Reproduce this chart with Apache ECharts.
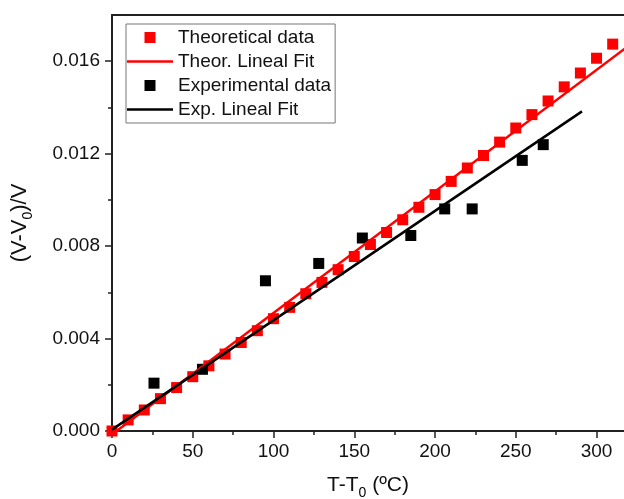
<!DOCTYPE html>
<html>
<head>
<meta charset="utf-8">
<script src="https://cdn.jsdelivr.net/npm/echarts@6/dist/echarts.min.js"></script>
<style>
  html, body { margin: 0; padding: 0; background: #fff; }
  #chart { width: 624px; height: 499px; }
</style>
</head>
<body>
<div id="chart"></div>
<script>
// theoretical points
var theorX = [0, 10, 20, 30, 40, 50, 60, 70, 80, 90, 100, 110, 120, 130, 140, 150,
  160, 170, 180, 190, 200, 210, 220, 230, 240, 250, 260, 270, 280, 290, 300, 310];
var theorY = [0, 0.00048, 0.00091, 0.00140, 0.00188, 0.00235, 0.00282, 0.00333, 0.00383,
  0.00434, 0.00486, 0.00535, 0.00594, 0.00643, 0.00698, 0.00755, 0.00807, 0.00859,
  0.00914, 0.00968, 0.01023, 0.01080, 0.01138, 0.01192, 0.01250, 0.01311, 0.01369,
  0.01428, 0.01489, 0.01549, 0.01613, 0.01674];
// experimental points
var expX = [26, 56, 95, 128, 155, 185, 206, 223, 254, 267];
var expY = [0.00207, 0.00267, 0.00650, 0.00725, 0.00835, 0.00846, 0.00961, 0.00961, 0.01171, 0.01239];
// fit lines (end points)
var theorFitX = [0, 330];
var theorFitY = [-0.00015, 0.0172];
var expFitX = [0, 291];
var expFitY = [0.00006, 0.01383];
// ticks
var xMajor = [0, 50, 100, 150, 200, 250, 300];
var xMinor = [25, 75, 125, 175, 225, 275];
var yMajor = [0, 0.004, 0.008, 0.012, 0.016];
var yMinor = [0.002, 0.006, 0.010, 0.014];

var seriesNames = ['Theoretical data', 'Theor. Lineal Fit', 'Experimental data', 'Exp. Lineal Fit'];

function pairs(xs, ys) {
  var out = [];
  for (var i = 0; i < xs.length; i++) out.push([xs[i], ys[i]]);
  return out;
}

var font = 'Liberation Sans, Arial, sans-serif';
var axisCol = '#222';
var subRich = {
  sub: { fontSize: 14, fontFamily: font, color: '#000', verticalAlign: 'bottom', lineHeight: 14, padding: [0, 0, -4, 0] }
};
var square = 'path://M0 0H10V10H0Z';
var dash = 'path://M0 0H46V2.5H0Z';

var myChart = echarts.init(document.getElementById('chart'));
var option = {
  animation: false,
  grid: { left: 112, top: 15, right: 0, bottom: 68, outerBoundsMode: 'none', containLabel: false },
  legend: {
    orient: 'vertical',
    left: 126,
    top: 24,
    padding: [4, 4, 4, 1],
    itemWidth: 46,
    itemHeight: 11,
    itemGap: 5,
    borderColor: '#777',
    borderWidth: 1,
    textStyle: { fontSize: 19, fontFamily: font, color: '#111' },
    data: [
      { name: seriesNames[0], icon: square },
      { name: seriesNames[1], icon: dash },
      { name: seriesNames[2], icon: square },
      { name: seriesNames[3], icon: dash }
    ]
  },
  xAxis: [
    {
      type: 'value', position: 'bottom', min: 0, max: 317,
      name: 'T-T{sub|0} (ºC)', nameLocation: 'middle', nameGap: 44,
      nameTextStyle: { fontSize: 21, fontFamily: font, color: '#111', rich: subRich },
      axisLine: { onZero: false, lineStyle: { color: axisCol, width: 2 } },
      axisTick: { customValues: xMajor, length: 7, lineStyle: { color: axisCol, width: 1.5 } },
      axisLabel: { customValues: xMajor, fontSize: 19, fontFamily: font, color: '#111', margin: 11 },
      splitLine: { show: false }
    },
    {
      type: 'value', position: 'bottom', min: 0, max: 317,
      axisLine: { show: false },
      axisTick: { customValues: xMinor, length: 4, lineStyle: { color: axisCol, width: 1.5 } },
      axisLabel: { show: false },
      splitLine: { show: false }
    },
    {
      type: 'value', position: 'top', min: 0, max: 317,
      axisLine: { onZero: false, lineStyle: { color: axisCol, width: 2 } },
      axisTick: { show: false },
      axisLabel: { show: false },
      splitLine: { show: false }
    }
  ],
  yAxis: [
    {
      type: 'value', position: 'left', min: 0, max: 0.018,
      name: '(V-V{sub|0})/V', nameLocation: 'middle', nameGap: 81, nameRotate: 90,
      nameTextStyle: { fontSize: 22, fontFamily: font, color: '#111', rich: subRich },
      axisLine: { onZero: false, lineStyle: { color: axisCol, width: 2 } },
      axisTick: { customValues: yMajor, length: 7, lineStyle: { color: axisCol, width: 1.5 } },
      axisLabel: {
        customValues: yMajor, fontSize: 19, fontFamily: font, color: '#111', margin: 12,
        formatter: function (v) { return v.toFixed(3); }
      },
      splitLine: { show: false }
    },
    {
      type: 'value', position: 'left', min: 0, max: 0.018,
      axisLine: { show: false },
      axisTick: { customValues: yMinor, length: 4, lineStyle: { color: axisCol, width: 1.5 } },
      axisLabel: { show: false },
      splitLine: { show: false }
    }
  ],
  series: [
    {
      name: seriesNames[0], type: 'scatter', symbol: 'rect', symbolSize: 11,
      itemStyle: { color: '#ff0000', opacity: 1 },
      data: pairs(theorX, theorY)
    },
    {
      name: seriesNames[1], type: 'line', symbol: 'none',
      lineStyle: { color: '#ff0000', width: 2.5 },
      itemStyle: { color: '#ff0000' },
      data: pairs(theorFitX, theorFitY)
    },
    {
      name: seriesNames[2], type: 'scatter', symbol: 'rect', symbolSize: 11,
      itemStyle: { color: '#000000', opacity: 1 },
      data: pairs(expX, expY)
    },
    {
      name: seriesNames[3], type: 'line', symbol: 'none',
      lineStyle: { color: '#000000', width: 2.5 },
      itemStyle: { color: '#000000' },
      data: pairs(expFitX, expFitY)
    }
  ]
};
myChart.setOption(option);
</script>
</body>
</html>
